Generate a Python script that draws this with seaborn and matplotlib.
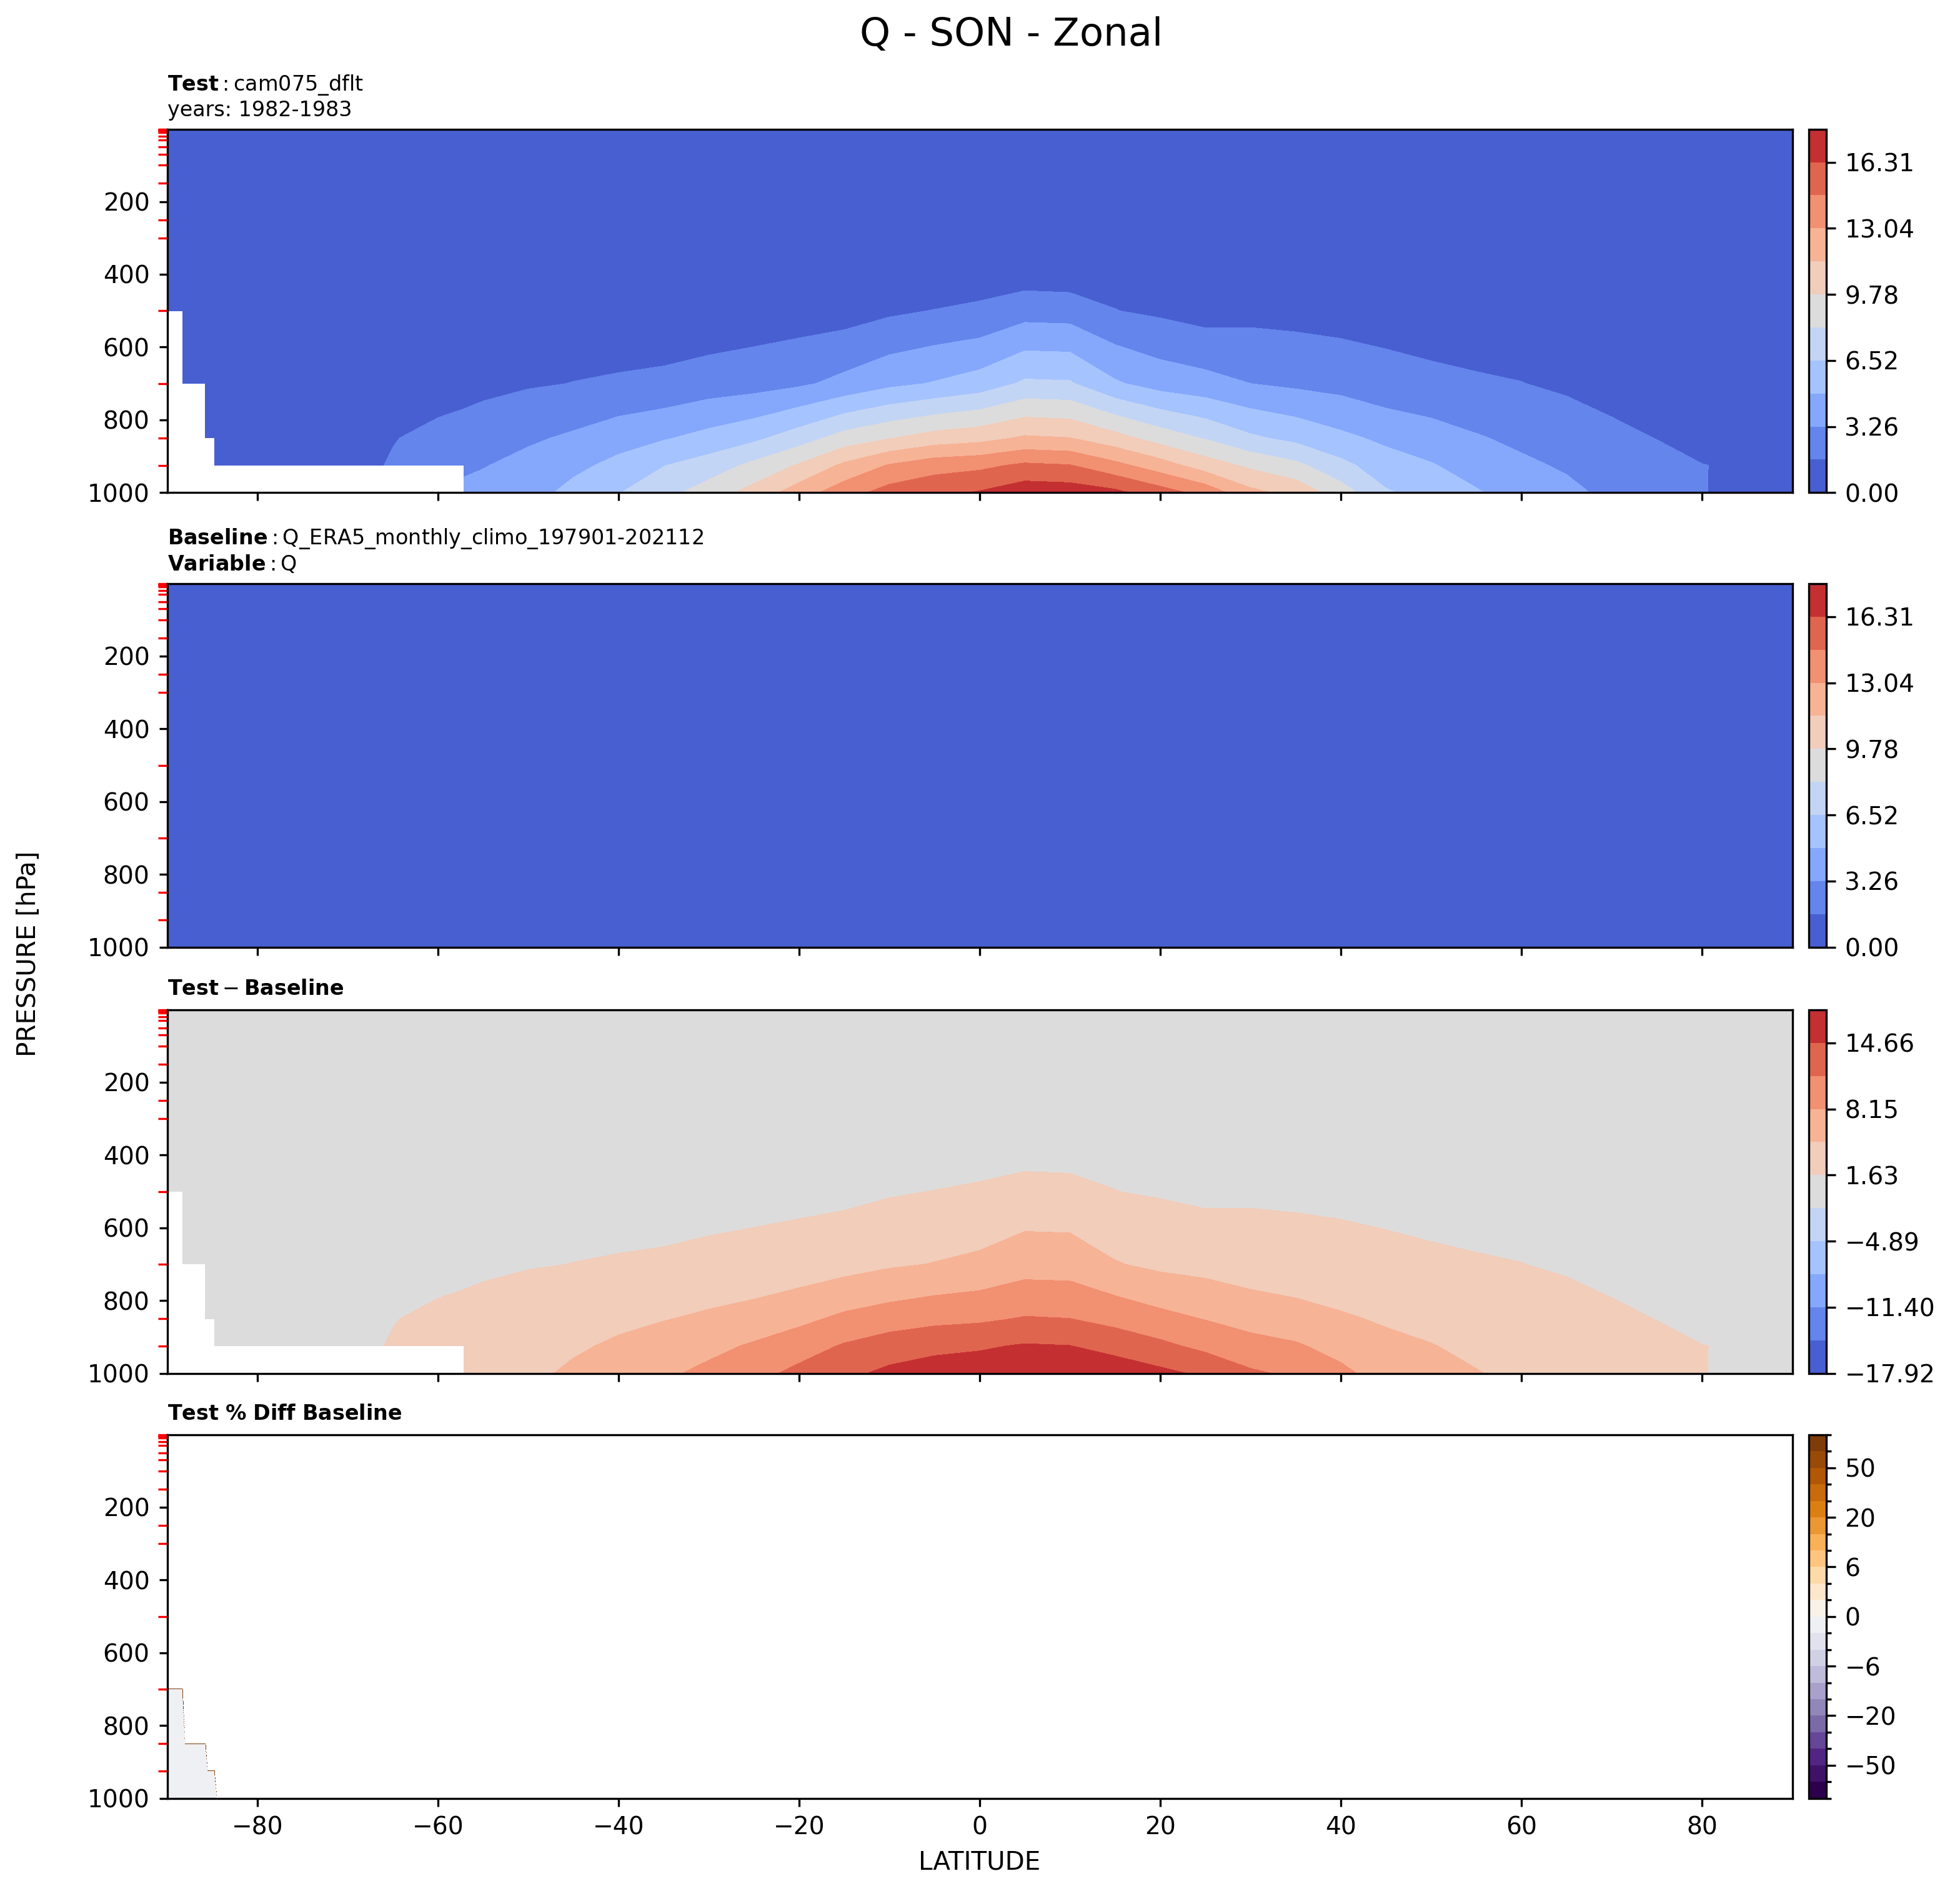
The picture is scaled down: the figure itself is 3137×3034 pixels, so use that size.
import numpy as np
import matplotlib
matplotlib.use("Agg")
import matplotlib.pyplot as plt
import matplotlib.colors as mcolors
from matplotlib.ticker import FixedLocator, FuncFormatter
import seaborn as sns

# ---------------- data ----------------
lat = [-90, -88.3, -88.0, -85.75, -85.5, -84.75, -84.5, -80, -75, -70, -65, -60, -57.15,
       -55, -50, -45, -40, -35, -30, -25, -20, -15, -10, -5, 0, 5, 10, 15,
       20, 25, 30, 35, 40, 45, 50, 55, 60, 65, 70, 75, 80, 85, 90]

lev = [1000, 925, 850, 700, 500, 400, 300, 250, 200, 150, 100, 70, 50,
       30, 20, 10, 7, 5, 3, 2, 1]

# specific humidity (g/kg) at the lower levels, one value per latitude
q1000 = [0.5, 0.5, 0.5, 0.55, 0.55, 0.6, 0.6, 0.7, 0.9, 1.2, 2.2, 3.2, 3.62,
         3.8, 4.2, 5.42, 6.45, 7.6, 8.95, 10.39, 12.27, 14.0, 15.33, 15.9, 16.45, 17.3, 17.2, 16.71,
         15.44, 14.12, 11.85, 10.9, 8.94, 6.70, 5.9, 5.04, 4.18, 3.64, 2.9, 2.3, 1.68, 1.3, 1.2]
q925 = [0.33, 0.35, 0.35, 0.38, 0.38, 0.4, 0.4, 0.5, 0.7, 0.95, 1.8, 2.78, 2.99,
        3.18, 3.76, 4.47, 5.37, 6.47, 7.28, 8.56, 9.96, 11.74, 13.18, 14.01, 14.29, 14.97, 14.75, 13.52,
        12.16, 10.61, 9.46, 8.55, 6.97, 5.64, 5.01, 4.22, 3.55, 3.07, 2.5, 2.13, 1.66, 1.45, 1.35]
q850 = [0.3, 0.3, 0.3, 0.35, 0.35, 0.38, 0.38, 0.45, 0.65, 0.9, 1.545, 2.12, 2.33,
        2.52, 3.025, 3.51, 4.19, 4.75, 5.42, 6.17, 7.38, 8.82, 9.71, 10.49, 10.88, 11.64, 11.45, 10.39,
        9.09, 8.03, 6.80, 6.09, 5.26, 4.55, 3.99, 3.40, 2.92, 2.51, 2.01, 1.60, 1.21, 1.1, 1.05]
q700 = [0.22, 0.25, 0.25, 0.28, 0.28, 0.3, 0.3, 0.35, 0.45, 0.6, 0.8, 0.81, 1.02,
        1.21, 1.475, 1.66, 1.85, 2.0, 2.4, 2.6, 3.0, 3.7, 4.5, 5.0, 5.6, 6.78, 6.69, 5.09,
        4.2, 3.8, 3.26, 2.95, 2.7, 2.2, 2.0, 1.8, 1.66, 1.37, 1.03, 1.0, 0.85, 0.75, 0.7]
q500 = [0.1, 0.1, 0.1, 0.12, 0.12, 0.12, 0.12, 0.15, 0.2, 0.25, 0.3, 0.35, 0.4,
        0.45, 0.55, 0.66, 0.38, 0.46, 0.43, 0.68, 0.81, 0.9, 1.36, 1.68, 1.86, 2.59, 2.51, 1.66,
        1.35, 0.96, 1.14, 1.09, 0.97, 1.0, 0.81, 0.77, 0.66, 0.55, 0.45, 0.4, 0.35, 0.3, 0.28]
q400 = [0.05, 0.05, 0.05, 0.06, 0.06, 0.07, 0.07, 0.08, 0.1, 0.12, 0.15, 0.2, 0.2,
        0.25, 0.3, 0.3, 0.3, 0.3, 0.25, 0.3, 0.35, 0.45, 0.6, 0.4, 1.01, 0.845, 0.75, 1.16,
        0.55, 0.45, 0.45, 0.4, 0.38, 0.35, 0.25, 0.3, 0.28, 0.25, 0.2, 0.18, 0.15, 0.14, 0.13]
# upper levels (300 hPa and above): nearly uniform in latitude
q_upper = [0.2, 0.1, 0.04, 0.012, 0.004, 0.003, 0.003, 0.003, 0.003,
           0.003, 0.003, 0.003, 0.003, 0.003, 0.003]

# lowest valid pressure of the test data at each latitude (white = missing)
test_lowest_p = [500, 700, 700, 850, 850, 925, 925, 925, 925, 925, 925, 925] + [1000] * 31
# % diff panel: small filled area near the South Pole (top pressure, value)
pct_fill_top = [700, 700, 850, 850, 925, 925, 1000] + [None] * 36
pct_fill_value = -1.0

# contour levels
test_levels = np.linspace(0.0, 17.9365, 12)
diff_levels = np.linspace(-17.92, 17.92, 12)
pct_levels = [-100, -75, -50, -40, -30, -20, -10, -8, -6, -4, -2, 0,
              2, 4, 6, 8, 10, 20, 30, 40, 50, 75, 100]
xticks = [-80, -60, -40, -20, 0, 20, 40, 60, 80]
yticks = [200, 400, 600, 800, 1000]

# ---------------- derived fields ----------------
lat_a = np.array(lat, dtype=float)
lev_a = np.array(lev, dtype=float)
nlat = len(lat)
q = np.vstack([q1000, q925, q850, q700, q500, q400] +
              [np.full(nlat, v) for v in q_upper]).astype(float)

P, _ = np.meshgrid(lev_a, lat_a, indexing="ij")
below = P > np.array(test_lowest_p)[None, :]
test = np.where(below, np.nan, q)              # g/kg
base = q * 1.0e-3                              # kg/kg (ERA5 units)
diff = test - base
pct = (test - base) / base * 100.0
for j, top in enumerate(pct_fill_top):
    if top is not None:
        pct[lev_a >= top, j] = pct_fill_value

# ---------------- style ----------------
sns.set_style("ticks", {"axes.edgecolor": "black", "xtick.color": "black",
                        "ytick.color": "black", "text.color": "black",
                        "axes.labelcolor": "black"})
plt.rcParams["font.family"] = ["DejaVu Sans"]
plt.rcParams["mathtext.fontset"] = "dejavusans"

cmap_main = sns.color_palette("coolwarm", as_cmap=True)
cmap_pct = sns.color_palette("PuOr_r", as_cmap=True)

W, H = 3137, 3034
dpi = 300
fig = plt.figure(figsize=(W / dpi, H / dpi), dpi=dpi)

ax_left = 267.5 / W
ax_w = 2601.0 / W
ax_h = 581.6 / H
tops = [206.7, 934.0, 1616.0, 2296.0]
cb_left = 2895.0 / W
cb_w = 28.3 / W

TICK_FS = 9.4
fmt2 = FuncFormatter(lambda v, pos: f"{v:.2f}".replace("-", "\u2212"))

titles = [
    r"$\mathbf{Test}:$cam075_dflt" + "\n" + "years: 1982-1983",
    r"$\mathbf{Baseline}:$Q_ERA5_monthly_climo_197901-202112" + "\n" + r"$\mathbf{Variable}:$Q",
    r"$\mathbf{Test} - \mathbf{Baseline}$",
    r"$\mathbf{Test\ \%\ Diff\ Baseline}$",
]
title_pads = [5.0, 5.0, 5.8, 5.8]
fields = [test, base, diff, pct]

for i in range(4):
    bottom = 1 - (tops[i] + 581.6) / H
    ax = fig.add_axes([ax_left, bottom, ax_w, ax_h])
    cax = fig.add_axes([cb_left, bottom, cb_w, ax_h])
    data = np.ma.masked_invalid(fields[i])
    if i in (0, 1):
        cs = ax.contourf(lat_a, lev_a, data, levels=test_levels, cmap=cmap_main,
                         corner_mask=False)
        cb = fig.colorbar(cs, cax=cax, ticks=test_levels[::2], format=fmt2)
    elif i == 2:
        cs = ax.contourf(lat_a, lev_a, data, levels=diff_levels, cmap=cmap_main,
                         corner_mask=False)
        cb = fig.colorbar(cs, cax=cax, ticks=diff_levels[::2], format=fmt2)
    else:
        norm = mcolors.BoundaryNorm(pct_levels, cmap_pct.N)
        cs = ax.contourf(lat_a, lev_a, data, levels=pct_levels, cmap=cmap_pct,
                         norm=norm, corner_mask=False)
        cb = fig.colorbar(cs, cax=cax, ticks=pct_levels[2::3])
        cb.set_ticks(pct_levels, minor=True)
        cb.ax.set_yticklabels([str(v).replace("-", "\u2212") for v in pct_levels[2::3]])
    cb.ax.tick_params(labelsize=TICK_FS, length=3.5, width=0.8)
    cb.ax.tick_params(which="minor", length=2.0, width=0.8)
    cb.outline.set_linewidth(0.8)

    ax.set_xlim(-90, 90)
    ax.set_ylim(1000, 1)
    ax.set_xticks(xticks)
    ax.set_yticks(yticks)
    ax.yaxis.set_minor_locator(FixedLocator(lev))
    ax.tick_params(axis="y", which="minor", color="red", length=3.6, width=0.8)
    ax.tick_params(axis="both", which="major", labelsize=TICK_FS, length=3.2, width=0.8)
    if i < 3:
        ax.tick_params(axis="x", labelbottom=False)
    else:
        ax.set_xlabel("LATITUDE", fontsize=9.7)
    for s in ax.spines.values():
        s.set_linewidth(0.8)
    ax.set_title(titles[i], loc="left", fontsize=8, pad=title_pads[i])

fig.suptitle("Q - SON - Zonal", x=1619 / W, y=1 - 56 / H, va="center", fontsize=15)
fig.text(46 / W, 0.497, "PRESSURE [hPa]", rotation=90, va="center", ha="center",
         fontsize=9.7)

fig.savefig("out.png", dpi=dpi)
